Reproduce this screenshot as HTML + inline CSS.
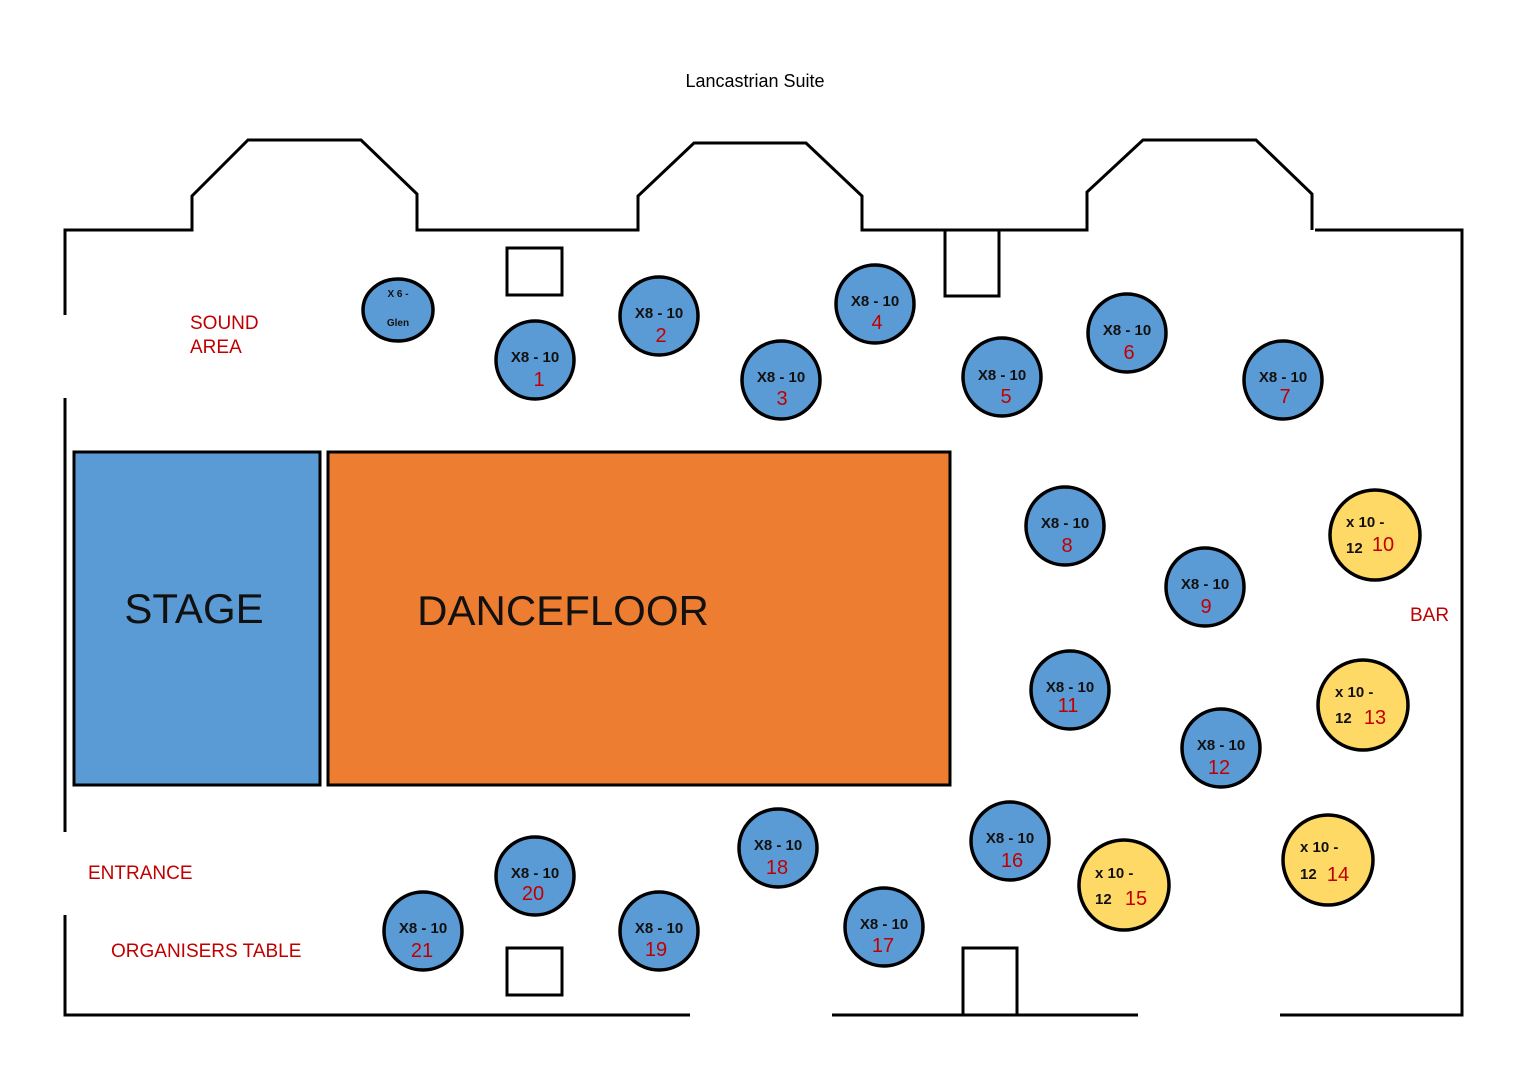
<!DOCTYPE html>
<html><head><meta charset="utf-8"><style>
html,body{margin:0;padding:0;background:#fff;}
svg{display:block;font-family:"Liberation Sans",sans-serif;}
.b{fill:#5b9bd5;stroke:#000;stroke-width:3.5}
.y{fill:#ffd966;stroke:#000;stroke-width:3.5}
.t{font-size:15px;font-weight:bold;fill:#111;text-anchor:middle}
.n{font-size:20px;fill:#c00000;text-anchor:middle;font-weight:normal}
.r{font-size:19px;fill:#c00000}
.w{fill:none;stroke:#000;stroke-width:3}
</style></head><body>
<svg width="1527" height="1080" viewBox="0 0 1527 1080">
<text x="755" y="87" font-size="18" text-anchor="middle" fill="#000">Lancastrian Suite</text>
<path class="w" d="M65,315 V230 H192 V196 L248,140 H361 L417,194 V230 H638 V196 L694,143 H806 L862,196 V230 H1087 V192 L1143,140 H1256 L1312,194 V230"/>
<path class="w" d="M1315,230 H1462 V1015 H1280"/>
<path class="w" d="M65,398 V832 M65,915 V1015 H690 M832,1015 H1138"/>
<rect class="w" x="507" y="248" width="55" height="47"/>
<rect class="w" x="945" y="230" width="54" height="66"/>
<rect class="w" x="507" y="948" width="55" height="47"/>
<rect class="w" x="963" y="948" width="54" height="67"/>
<rect x="74" y="452" width="246" height="333" fill="#5b9bd5" stroke="#000" stroke-width="3"/>
<rect x="328" y="452" width="622" height="333" fill="#ed7d31" stroke="#000" stroke-width="3"/>
<text x="194" y="623" font-size="42" text-anchor="middle" fill="#111">STAGE</text>
<text x="563" y="625" font-size="42" text-anchor="middle" fill="#111">DANCEFLOOR</text>
<text class="r" x="190" y="329">SOUND</text>
<text class="r" x="190" y="353">AREA</text>
<text class="r" x="88" y="879">ENTRANCE</text>
<text class="r" x="111" y="957">ORGANISERS TABLE</text>
<text class="r" x="1410" y="621">BAR</text>
<ellipse class="b" cx="398" cy="310" rx="35" ry="31"/>
<text x="398" y="297" font-size="10" font-weight="bold" text-anchor="middle" fill="#111">X 6 -</text>
<text x="398" y="326" font-size="10" font-weight="bold" text-anchor="middle" fill="#111">Glen</text>
<g>
<circle class="b" cx="535" cy="360" r="39"/><text class="t" x="535" y="362">X8 - 10</text><text class="n" x="539" y="386">1</text>
<circle class="b" cx="659" cy="316" r="39"/><text class="t" x="659" y="318">X8 - 10</text><text class="n" x="661" y="342">2</text>
<circle class="b" cx="781" cy="380" r="39"/><text class="t" x="781" y="382">X8 - 10</text><text class="n" x="782" y="405">3</text>
<circle class="b" cx="875" cy="304" r="39"/><text class="t" x="875" y="306">X8 - 10</text><text class="n" x="877" y="329">4</text>
<circle class="b" cx="1002" cy="377" r="39"/><text class="t" x="1002" y="380">X8 - 10</text><text class="n" x="1006" y="403">5</text>
<circle class="b" cx="1127" cy="333" r="39"/><text class="t" x="1127" y="335">X8 - 10</text><text class="n" x="1129" y="359">6</text>
<circle class="b" cx="1283" cy="380" r="39"/><text class="t" x="1283" y="382">X8 - 10</text><text class="n" x="1285" y="403">7</text>
<circle class="b" cx="1065" cy="526" r="39"/><text class="t" x="1065" y="528">X8 - 10</text><text class="n" x="1067" y="552">8</text>
<circle class="b" cx="1205" cy="587" r="39"/><text class="t" x="1205" y="589">X8 - 10</text><text class="n" x="1206" y="613">9</text>
<circle class="b" cx="1070" cy="690" r="39"/><text class="t" x="1070" y="692">X8 - 10</text><text class="n" x="1068" y="712">11</text>
<circle class="b" cx="1221" cy="748" r="39"/><text class="t" x="1221" y="750">X8 - 10</text><text class="n" x="1219" y="774">12</text>
<circle class="b" cx="1010" cy="841" r="39"/><text class="t" x="1010" y="843">X8 - 10</text><text class="n" x="1012" y="867">16</text>
<circle class="b" cx="778" cy="848" r="39"/><text class="t" x="778" y="850">X8 - 10</text><text class="n" x="777" y="874">18</text>
<circle class="b" cx="884" cy="927" r="39"/><text class="t" x="884" y="929">X8 - 10</text><text class="n" x="883" y="952">17</text>
<circle class="b" cx="535" cy="876" r="39"/><text class="t" x="535" y="878">X8 - 10</text><text class="n" x="533" y="900">20</text>
<circle class="b" cx="659" cy="931" r="39"/><text class="t" x="659" y="933">X8 - 10</text><text class="n" x="656" y="956">19</text>
<circle class="b" cx="423" cy="931" r="39"/><text class="t" x="423" y="933">X8 - 10</text><text class="n" x="422" y="957">21</text>
</g>
<g font-size="15" font-weight="bold" fill="#111">
<circle class="y" cx="1375" cy="535" r="45"/><text x="1346" y="527">x 10 -</text><text x="1346" y="553">12</text><text class="n" x="1383" y="551">10</text>
<circle class="y" cx="1363" cy="705" r="45"/><text x="1335" y="697">x 10 -</text><text x="1335" y="723">12</text><text class="n" x="1375" y="724">13</text>
<circle class="y" cx="1328" cy="860" r="45"/><text x="1300" y="852">x 10 -</text><text x="1300" y="879">12</text><text class="n" x="1338" y="881">14</text>
<circle class="y" cx="1124" cy="885" r="45"/><text x="1095" y="878">x 10 -</text><text x="1095" y="904">12</text><text class="n" x="1136" y="905">15</text>
</g>
</svg>
</body></html>
